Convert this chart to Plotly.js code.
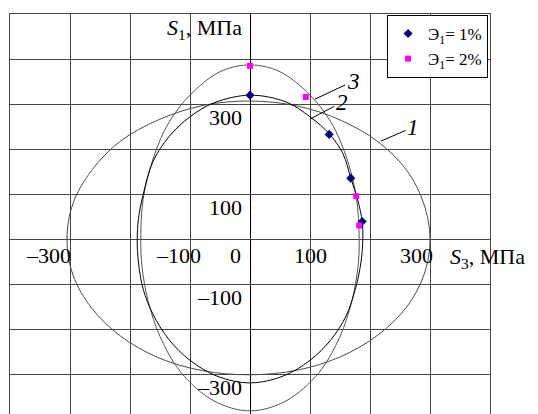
<!DOCTYPE html>
<html>
<head>
<meta charset="utf-8">
<script src="https://cdn.plot.ly/plotly-3.0.1.min.js"></script>
<style>
  html, body { margin: 0; padding: 0; background: #fff; }
  #plot { width: 538px; height: 414px; }
</style>
</head>
<body>
<div id="plot"></div>
<script>
// Curve 1 (S3, S1), MPa
const curve1S3 = [0, 79, 152, 214, 262, 290, 300, 290, 261, 213, 151, 78, 0, -79, -153, -216, -264, -295, -305, -295, -264, -216, -153, -79, 0];
const curve1S1 = [307, 296, 264, 216, 152, 78, 0, -78, -150, -212, -260, -290, -300, -291, -262, -214, -152, -79, 0, 80, 153, 218, 265, 297, 307];

// Curve 2
const curve2S3 = [0, 60, 100, 133, 155, 168, 180, 187, 188, 185, 176, 160, 135, 100, 55, 0, -55, -100, -135, -162, -178, -186, -188, -186, -178, -162, -135, -100, -60, 0];
const curve2S1 = [320, 305, 272, 233, 190, 136, 85, 40, 0, -50, -108, -170, -222, -268, -303, -318, -303, -268, -222, -165, -110, -50, 0, 45, 100, 172, 228, 272, 303, 320];

// Curve 3
const curve3S3 = [0, 50, 100, 135, 160, 177, 182, 180, 170, 150, 115, 60, 0, -60, -115, -150, -170, -180, -182, -178, -160, -135, -100, -50, 0];
const curve3S1 = [387, 372, 320, 260, 185, 96, 0, -60, -135, -215, -295, -358, -380, -358, -295, -215, -135, -60, 0, 90, 185, 260, 320, 372, 387];

// experiment points
const e1S3 = [0, 132, 168, 187];
const e1S1 = [320, 233, 136, 40];
const e2S3 = [0, 93, 177, 182];
const e2S1 = [385, 316, 96, 31];

const xTickVals = [-300, -100, 0, 100, 300];
const xTickText = ['\u2013300', '\u2013100', '0', '100', '300'];
const yTickVals = [300, 100, -100, -300];
const yTickText = ['300', '100', '\u2013100', '\u2013300'];

// curve labels: where the leader touches the curve, and where the number sits
const curveNames = ['1', '2', '3'];
const leaderS3 = [218, 100, 108];
const leaderS1 = [218, 267, 311];
const nameS3 = [272, 153, 172];
const nameS1 = [249, 304, 351];

const FONT = '"Liberation Serif", "Times New Roman", serif';

function curve(x, y, color) {
  return {
    x: x, y: y, mode: 'lines', type: 'scatter',
    line: { color: color, width: 1, shape: 'spline', smoothing: 1 },
    showlegend: false, hoverinfo: 'skip',
  };
}

const traces = [
  curve(curve1S3, curve1S1, '#4a4a4a'),
  curve(curve3S3, curve3S1, '#555555'),
  curve(curve2S3, curve2S1, '#000000'),
  {
    x: e1S3, y: e1S1, mode: 'markers', type: 'scatter',
    name: '\u042d<sub>1</sub>= 1%',
    marker: { symbol: 'diamond', size: 7, color: '#000080' },
  },
  {
    x: e2S3, y: e2S1, mode: 'markers', type: 'scatter',
    name: '\u042d<sub>1</sub>= 2%',
    marker: { symbol: 'square', size: 6, color: '#ff00ff' },
  },
];

const xShifts = [3, 13, -7, 0, 5];
const annotations = [];

xTickVals.forEach((v, i) => {
  annotations.push({
    x: v, y: 0, xref: 'x', yref: 'y', text: xTickText[i],
    showarrow: false, xanchor: i == 3 ? 'center' : 'right', yanchor: 'middle',
    xshift: xShifts[i], yshift: -16,
    font: { family: FONT, size: 22, color: '#000' },
  });
});

yTickVals.forEach((v, i) => {
  annotations.push({
    x: 0, y: v, xref: 'x', yref: 'y', text: yTickText[i],
    showarrow: false, xanchor: 'right', yanchor: 'middle',
    xshift: -6, yshift: -13,
    font: { family: FONT, size: 22, color: '#000' },
  });
});

curveNames.forEach((n, i) => {
  annotations.push({
    x: leaderS3[i], y: leaderS1[i], xref: 'x', yref: 'y',
    ax: nameS3[i], ay: nameS1[i], axref: 'x', ayref: 'y',
    text: '<i>' + n + '</i>', showarrow: true, arrowhead: 0,
    arrowwidth: 1, arrowcolor: '#000', standoff: 0,
    font: { family: FONT, size: 23, color: '#000' },
  });
});

// axis titles
annotations.push({
  x: 0, y: 466, xref: 'x', yref: 'y', text: '<i>S</i><sub>1</sub>, \u041c\u041f\u0430',
  showarrow: false, xanchor: 'right', yanchor: 'middle', xshift: -6,
  font: { family: FONT, size: 22, color: '#000' },
});
annotations.push({
  x: 0.9125, y: 0.39, xref: 'paper', yref: 'paper', text: '<i>S</i><sub>3</sub>, \u041c\u041f\u0430',
  showarrow: false, xanchor: 'left', yanchor: 'middle',
  font: { family: FONT, size: 22, color: '#000' },
});

const layout = {
  width: 538, height: 414,
  margin: { l: 10, r: 48, t: 14, b: 0 },
  paper_bgcolor: '#fff', plot_bgcolor: '#fff',
  font: { family: FONT, size: 16, color: '#000' },
  xaxis: {
    range: [-400, 400], dtick: 100, tick0: 0, showticklabels: false, ticks: '',
    showgrid: true, gridcolor: '#444', gridwidth: 1,
    zeroline: true, zerolinecolor: '#000', zerolinewidth: 1,
    showline: true, linecolor: '#444', linewidth: 1, mirror: true,
    fixedrange: true,
  },
  yaxis: {
    range: [-387, 500], dtick: 100, tick0: 0, showticklabels: false, ticks: '',
    showgrid: true, gridcolor: '#444', gridwidth: 1,
    zeroline: true, zerolinecolor: '#444', zerolinewidth: 1,
    showline: true, linecolor: '#444', linewidth: 1, mirror: true,
    fixedrange: true,
  },
  showlegend: true,
  legend: {
    x: 0.996, y: 0.9975, xanchor: 'right', yanchor: 'top',
    bgcolor: '#fff', bordercolor: '#000', borderwidth: 1,
    font: { family: FONT, size: 17, color: '#000' },
    tracegroupgap: 0, itemwidth: 30,
  },
  annotations: annotations,
  hovermode: false,
};

Plotly.newPlot('plot', traces, layout, { displayModeBar: false, staticPlot: true });
</script>
</body>
</html>
